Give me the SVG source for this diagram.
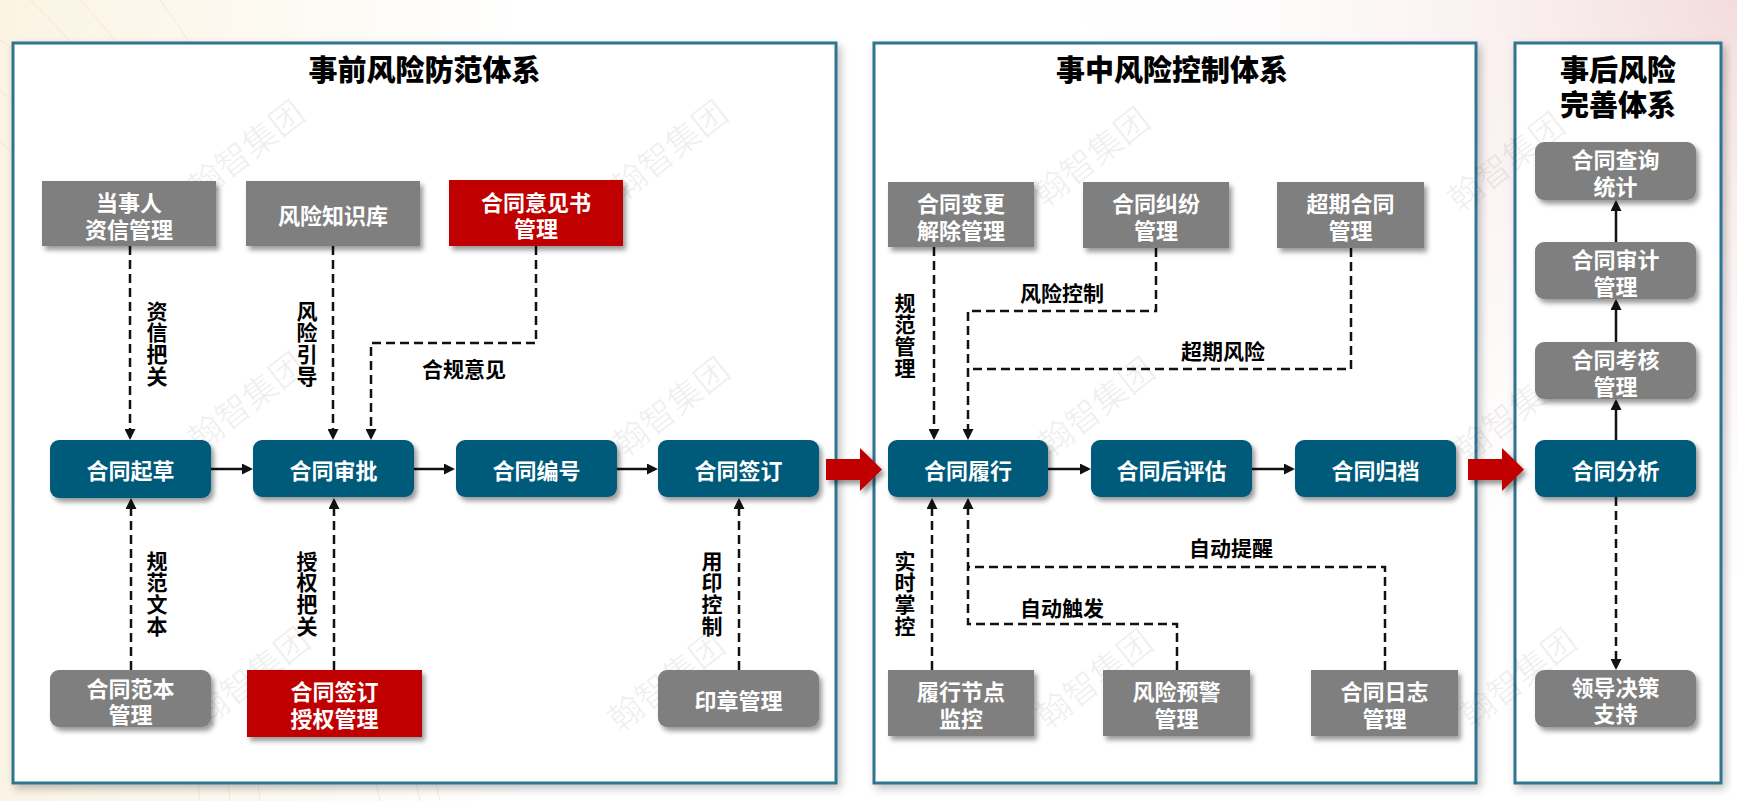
<svg xmlns="http://www.w3.org/2000/svg" width="1737" height="801" viewBox="0 0 1737 801">
<defs>
<style>
.nt{font-family:"Noto Sans CJK SC","Noto Sans",sans-serif;font-weight:700;font-size:22px;fill:#fff;text-anchor:middle;dominant-baseline:central}
.lbl{font-family:"Noto Sans CJK SC","Noto Sans",sans-serif;font-weight:700;font-size:21px;fill:#000;text-anchor:middle;dominant-baseline:central}
.vl{font-family:"Noto Sans CJK SC","Noto Sans",sans-serif;font-weight:700;font-size:21px;fill:#000;text-anchor:middle;writing-mode:vertical-rl;text-orientation:upright;letter-spacing:0.7px}
.ttl{font-family:"Noto Sans CJK SC","Noto Sans",sans-serif;font-weight:900;font-size:29px;fill:#000;text-anchor:middle;dominant-baseline:central}
.wm{font-family:"Noto Sans CJK SC",sans-serif;font-size:34px;fill:#000;fill-opacity:0.06;text-anchor:middle;dominant-baseline:central}
.panel{fill:#fff;stroke:#2E7590;stroke-width:3;filter:url(#psh)}
.main{fill:#035A7A;filter:url(#sh)}
.gray{fill:#7F7F7F;filter:url(#sh)}
.red{fill:#C00000;filter:url(#sh)}
.solid{fill:none;stroke:#111;stroke-width:2.5;marker-end:url(#ah)}
.dash{fill:none;stroke:#111;stroke-width:2.5;stroke-dasharray:9 5}
.dasharr{fill:none;stroke:#111;stroke-width:2.5;stroke-dasharray:9 5;marker-end:url(#ah)}
.big{fill:#C00000;filter:url(#sh)}
.guil{fill:none;stroke:#E9D9A8;stroke-width:1;stroke-opacity:0.45}
</style>
<filter id="sh" x="-20%" y="-20%" width="150%" height="160%">
<feDropShadow dx="3" dy="4" stdDeviation="2.5" flood-color="#000" flood-opacity="0.4"/>
</filter>
<filter id="psh" x="-5%" y="-5%" width="110%" height="110%">
<feDropShadow dx="3" dy="4" stdDeviation="4" flood-color="#000" flood-opacity="0.25"/>
</filter>
<marker id="ah" viewBox="0 0 10 10" refX="7.3" refY="5" markerWidth="11" markerHeight="11" markerUnits="userSpaceOnUse" orient="auto">
<path d="M0,0 L10,5 L0,10 z" fill="#111"/>
</marker>
<radialGradient id="pink" cx="1737" cy="0" r="700" gradientUnits="userSpaceOnUse">
<stop offset="0" stop-color="#F3DCDC"/>
<stop offset="1" stop-color="#FFFFFF" stop-opacity="0"/>
</radialGradient>
<linearGradient id="cream" x1="0" y1="0" x2="1" y2="0">
<stop offset="0" stop-color="#FBF4E4"/>
<stop offset="0.3" stop-color="#FFFFFF"/>
</linearGradient>
</defs>

<g id="background">
<rect x="0" y="0" width="1737" height="801" fill="url(#cream)"/>
<rect x="0" y="0" width="1737" height="801" fill="url(#pink)"/>
<path class="guil" d="M0,40 C120,120 200,300 260,801"/>
<path class="guil" d="M0,90 C100,180 180,360 230,801"/>
<path class="guil" d="M0,140 C90,240 160,420 200,801"/>
<path class="guil" d="M30,0 C180,140 300,420 380,801"/>
<path class="guil" d="M80,0 C230,160 360,450 440,801"/>
<path class="guil" d="M160,0 C250,120 330,330 420,801"/>
</g>

<g id="panels">
<rect id="panel-pre" class="panel" x="13" y="43" width="823" height="740"/>
<rect id="panel-mid" class="panel" x="874" y="43" width="602" height="740"/>
<rect id="panel-post" class="panel" x="1515" y="43" width="206" height="740"/>
<text class="ttl" x="424.5" y="68">事前风险防范体系</text>
<text class="ttl" x="1172" y="68">事中风险控制体系</text>
<text class="ttl"><tspan x="1618" y="68">事后风险</tspan><tspan x="1618" y="103">完善体系</tspan></text>
</g>

<g id="watermarks">
<text class="wm" transform="translate(245,148) rotate(-38)">翰智集团</text>
<text class="wm" transform="translate(668,148) rotate(-38)">翰智集团</text>
<text class="wm" transform="translate(1090,155) rotate(-38)">翰智集团</text>
<text class="wm" transform="translate(1505,160) rotate(-38)">翰智集团</text>
<text class="wm" transform="translate(245,400) rotate(-38)">翰智集团</text>
<text class="wm" transform="translate(670,405) rotate(-38)">翰智集团</text>
<text class="wm" transform="translate(1095,405) rotate(-38)">翰智集团</text>
<text class="wm" transform="translate(1512,410) rotate(-38)">翰智集团</text>
<text class="wm" transform="translate(250,675) rotate(-38)">翰智集团</text>
<text class="wm" transform="translate(665,680) rotate(-38)">翰智集团</text>
<text class="wm" transform="translate(1093,677) rotate(-38)">翰智集团</text>
<text class="wm" transform="translate(1517,676) rotate(-38)">翰智集团</text>
</g>

<g id="connectors">
<path class="solid" d="M211,469 H250"/>
<path class="solid" d="M414,469 H452"/>
<path class="solid" d="M617,469 H655"/>
<path class="solid" d="M1048,469 H1088"/>
<path class="solid" d="M1252,469 H1292"/>
<path class="big" d="M826,459 H860 V448 L882,469.5 L860,491 V480 H826 Z"/>
<path class="big" d="M1468,459 H1502 V448 L1524,469.5 L1502,491 V480 H1468 Z"/>
<path class="dasharr" d="M130,246 V437"/>
<text class="vl" x="157" y="343.5">资信把关</text>
<path class="dasharr" d="M333,246 V437"/>
<text class="vl" x="307" y="343.5">风险引导</text>
<path class="dasharr" d="M536,246 V343 H371 V437"/>
<text class="lbl" x="464" y="368">合规意见</text>
<path class="dasharr" d="M131,670 V501"/>
<text class="vl" x="157" y="593.5">规范文本</text>
<path class="dasharr" d="M334,670 V501"/>
<text class="vl" x="307" y="593.5">授权把关</text>
<path class="dasharr" d="M739,670 V501"/>
<text class="vl" x="712" y="593.5">用印控制</text>
<path class="dasharr" d="M934,247 V437"/>
<text class="vl" x="905" y="335.5">规范管理</text>
<path class="dasharr" d="M1156,248 V311 H968 V437"/>
<text class="lbl" x="1062" y="292">风险控制</text>
<path class="dash" d="M1351,248 V369 H968"/>
<text class="lbl" x="1223" y="350">超期风险</text>
<path class="dasharr" d="M932,670 V501"/>
<text class="vl" x="905" y="593.5">实时掌控</text>
<path class="dasharr" d="M1177,670 V624 H968 V501"/>
<text class="lbl" x="1062" y="607">自动触发</text>
<path class="dash" d="M1385,670 V567 H968"/>
<text class="lbl" x="1231" y="547">自动提醒</text>
<path class="solid" d="M1616,440 V402"/>
<path class="solid" d="M1616,342 V302"/>
<path class="solid" d="M1616,242 V203"/>
<path class="dasharr" d="M1616,497 V667"/>
</g>

<g id="n-dangshiren"><rect class="gray" x="42" y="181" width="174" height="65"/><text class="nt"><tspan x="129" y="201">当事人</tspan><tspan x="129" y="228">资信管理</tspan></text></g>
<g id="n-zhishiku"><rect class="gray" x="246" y="181" width="174" height="65"/><text class="nt" x="333" y="213.5">风险知识库</text></g>
<g id="n-yijianshu"><rect class="red" x="449" y="180" width="174" height="66"/><text class="nt"><tspan x="536" y="201">合同意见书</tspan><tspan x="536" y="227">管理</tspan></text></g>

<g id="n-qicao"><rect class="main" x="50" y="440" width="161" height="58" rx="9"/><text class="nt" x="130.5" y="469">合同起草</text></g>
<g id="n-shenpi"><rect class="main" x="253" y="440" width="161" height="57" rx="9"/><text class="nt" x="333.5" y="469">合同审批</text></g>
<g id="n-bianhao"><rect class="main" x="456" y="440" width="161" height="57" rx="9"/><text class="nt" x="536.5" y="469">合同编号</text></g>
<g id="n-qianding"><rect class="main" x="658" y="440" width="161" height="57" rx="9"/><text class="nt" x="738.5" y="469">合同签订</text></g>

<g id="n-fanben"><rect class="gray" x="50" y="670" width="161" height="57" rx="9"/><text class="nt"><tspan x="130.5" y="687">合同范本</tspan><tspan x="130.5" y="713">管理</tspan></text></g>
<g id="n-shouquan"><rect class="red" x="247" y="670" width="175" height="67"/><text class="nt"><tspan x="334.5" y="690">合同签订</tspan><tspan x="334.5" y="717">授权管理</tspan></text></g>
<g id="n-yinzhang"><rect class="gray" x="658" y="670" width="161" height="57" rx="9"/><text class="nt" x="738.5" y="699">印章管理</text></g>

<g id="n-biangeng"><rect class="gray" x="888" y="182" width="146" height="65"/><text class="nt"><tspan x="961" y="202">合同变更</tspan><tspan x="961" y="229">解除管理</tspan></text></g>
<g id="n-jiufen"><rect class="gray" x="1083" y="182" width="146" height="66"/><text class="nt"><tspan x="1156" y="202">合同纠纷</tspan><tspan x="1156" y="229">管理</tspan></text></g>
<g id="n-chaoqi"><rect class="gray" x="1277" y="182" width="147" height="66"/><text class="nt"><tspan x="1350.5" y="202">超期合同</tspan><tspan x="1350.5" y="229">管理</tspan></text></g>

<g id="n-lvxing"><rect class="main" x="888" y="440" width="160" height="57" rx="9"/><text class="nt" x="968" y="469">合同履行</text></g>
<g id="n-houpinggu"><rect class="main" x="1091" y="440" width="161" height="57" rx="9"/><text class="nt" x="1171.5" y="469">合同后评估</text></g>
<g id="n-guidang"><rect class="main" x="1295" y="440" width="161" height="57" rx="9"/><text class="nt" x="1375.5" y="469">合同归档</text></g>

<g id="n-jiedian"><rect class="gray" x="888" y="670" width="146" height="66"/><text class="nt"><tspan x="961" y="690">履行节点</tspan><tspan x="961" y="717">监控</tspan></text></g>
<g id="n-yujing"><rect class="gray" x="1103" y="670" width="147" height="66"/><text class="nt"><tspan x="1176.5" y="690">风险预警</tspan><tspan x="1176.5" y="717">管理</tspan></text></g>
<g id="n-rizhi"><rect class="gray" x="1311" y="670" width="147" height="66"/><text class="nt"><tspan x="1384.5" y="690">合同日志</tspan><tspan x="1384.5" y="717">管理</tspan></text></g>

<g id="n-chaxun"><rect class="gray" x="1535" y="142" width="161" height="58" rx="9"/><text class="nt"><tspan x="1615.5" y="158">合同查询</tspan><tspan x="1615.5" y="185">统计</tspan></text></g>
<g id="n-shenji"><rect class="gray" x="1535" y="242" width="161" height="57" rx="9"/><text class="nt"><tspan x="1615.5" y="258">合同审计</tspan><tspan x="1615.5" y="285">管理</tspan></text></g>
<g id="n-kaohe"><rect class="gray" x="1535" y="342" width="161" height="57" rx="9"/><text class="nt"><tspan x="1615.5" y="358">合同考核</tspan><tspan x="1615.5" y="385">管理</tspan></text></g>
<g id="n-fenxi"><rect class="main" x="1535" y="440" width="161" height="57" rx="9"/><text class="nt" x="1615.5" y="469">合同分析</text></g>
<g id="n-juece"><rect class="gray" x="1535" y="670" width="161" height="57" rx="9"/><text class="nt"><tspan x="1615.5" y="686">领导决策</tspan><tspan x="1615.5" y="712">支持</tspan></text></g>
</svg>
